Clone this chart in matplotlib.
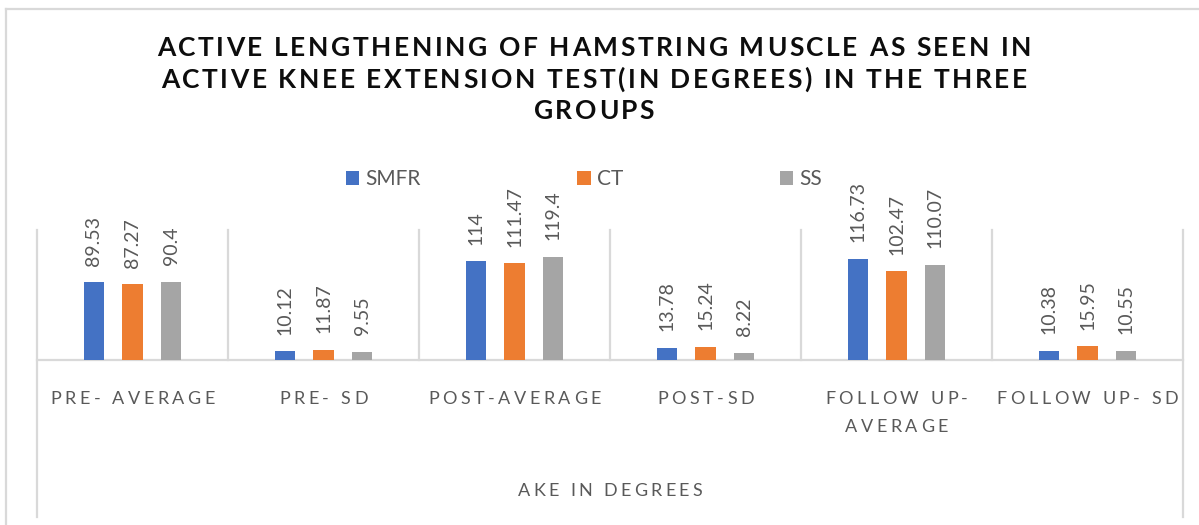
import matplotlib
matplotlib.use("Agg")
import matplotlib.pyplot as plt
import matplotlib.transforms as mtransforms
from matplotlib.lines import Line2D
from matplotlib.patches import Patch
import numpy as np

# ---- data ---------------------------------------------------------------
categories = ["PRE- AVERAGE", "PRE- SD", "POST-AVERAGE", "POST-SD",
              "FOLLOW UP-\nAVERAGE", "FOLLOW UP- SD"]
series_names = ["SMFR", "CT", "SS"]
smfr = [89.53, 10.12, 114, 13.78, 116.73, 10.38]
ct = [87.27, 11.87, 111.47, 15.24, 102.47, 15.95]
ss = [90.4, 9.55, 119.4, 8.22, 110.07, 10.55]
axis_title = "AKE IN DEGREES"
title_lines = ["ACTIVE LENGTHENING OF HAMSTRING MUSCLE AS SEEN IN",
               "ACTIVE KNEE EXTENSION TEST(IN DEGREES) IN THE THREE",
               "GROUPS"]

# ---- style --------------------------------------------------------------
W, H = 1199, 525
colors = ["#4472C4", "#ED7D31", "#A5A5A5"]
text_gray = "#595959"
line_gray = "#D9D9D9"
FONT = "Lato"

fig = plt.figure(figsize=(W / 100, H / 100), dpi=100)
fig.patch.set_facecolor("white")

ax_left, ax_right, ax_top, ax_base = 37, 1183, 230, 360
ax = fig.add_axes([ax_left / W, (H - ax_base) / H,
                   (ax_right - ax_left) / W, (ax_base - ax_top) / H])
ax.set_xlim(-0.5, len(categories) - 0.5)
ax.set_ylim(0, 150)
ax.set_axis_off()

x = np.arange(len(categories))
offsets = [-0.204, 0.0, 0.204]
bar_w = 0.105
for vals, off, col in zip([smfr, ct, ss], offsets, colors):
    bars = ax.bar(x + off, vals, bar_w, color=col, zorder=3)
    for b, v in zip(bars, vals):
        ax.annotate(f"{v:g}", (b.get_x() + b.get_width() / 2, v),
                    xytext=(0, 12), textcoords="offset points",
                    rotation=90, ha="center", va="bottom",
                    fontsize=14, color=text_gray, family=FONT)

# baseline and category separators
ax.axhline(0, color=line_gray, lw=1.6, zorder=2, clip_on=False)
sep_tr = mtransforms.blended_transform_factory(ax.transData, fig.transFigure)
for k in range(len(categories) + 1):
    xk = k - 0.5
    outer = k in (0, len(categories))
    y_low = 517 if outer else ax_base
    fig.add_artist(Line2D([xk, xk], [1 - ax_top / H, 1 - y_low / H],
                          transform=sep_tr, color=line_gray, lw=1.6, zorder=1))

# chart frame (left and top edges)
fig.add_artist(Line2D([6 / W, 6 / W], [1 - 9 / H, 0], transform=fig.transFigure,
                      color=line_gray, lw=1.6))
fig.add_artist(Line2D([6 / W, 1], [1 - 9 / H, 1 - 9 / H], transform=fig.transFigure,
                      color=line_gray, lw=1.6))

renderer = fig.canvas.get_renderer()


def text_width(s, size, weight):
    t = fig.text(0, 0, s, fontsize=size, family=FONT, fontweight=weight)
    w = t.get_window_extent(renderer).width
    t.remove()
    return w


def tracked_text(xc, y_base, s, size, spacing, color, weight="normal"):
    """Draw a letter-spaced string centred at xc (px) on baseline y_base (px from top)."""
    bar = text_width("|", size, weight)
    pos = [0.0] + [text_width(s[:i] + "|", size, weight) - bar for i in range(1, len(s))]
    total = text_width(s, size, weight) + spacing * (len(s) - 1)
    x0 = xc - total / 2
    for i, ch in enumerate(s):
        if ch == " ":
            continue
        fig.text((x0 + pos[i] + i * spacing) / W, 1 - y_base / H, ch,
                 fontsize=size, family=FONT, fontweight=weight, color=color,
                 ha="left", va="baseline")


# title
for j, line in enumerate(title_lines):
    tracked_text(594, 56 + 31.5 * j, line, 19, 2.6, "#0D0D0D", weight="bold")

# category labels
for i, lab in enumerate(categories):
    xc = ax.transData.transform((i, 0))[0]
    for j, part in enumerate(lab.split("\n")):
        tracked_text(xc, 404 + 28 * j, part, 13, 3.5, text_gray)

# axis title
tracked_text((ax_left + ax_right) / 2, 496, axis_title, 13, 3.3, text_gray)

# legend
handles = [Patch(facecolor=c, edgecolor="none") for c in colors]
fig.legend(handles, series_names, ncol=3, loc="center",
           bbox_to_anchor=(584 / W, 1 - 179 / H), frameon=False,
           prop={"family": FONT, "size": 15}, labelcolor=text_gray,
           handlelength=0.65, handleheight=0.65, handletextpad=0.3,
           columnspacing=7.5, borderpad=0)

fig.savefig("out.png", dpi=100, facecolor="white")
